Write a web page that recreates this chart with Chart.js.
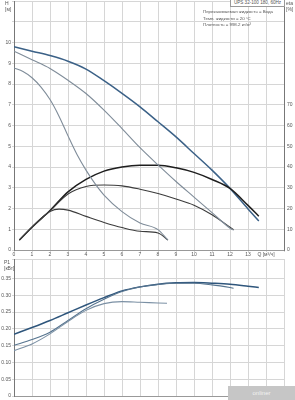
<!DOCTYPE html>
<html lang="ru">
<head>
<meta charset="UTF-8">
<title>UPS 32-100 180</title>
<style>
  html, body {
    margin: 0;
    padding: 0;
    background: #fff;
    font-family: 'Liberation Sans', Arial, sans-serif;
    color: #444;
  }
  .wrap {
    position: relative;
    width: 295px;
    height: 400px;
    overflow: hidden;
  }
  .box {
    position: absolute;
  }
  .lbl {
    position: absolute;
    font-size: 5px;
    line-height: 6px;
    color: #555;
    white-space: nowrap;
  }
  .title-box {
    position: absolute;
    left: 230px;
    top: 0;
    width: 53px;
    height: 6px;
    border: 1px solid #999;
    border-top: none;
    background: #fff;
    font-size: 4.6px;
    line-height: 6px;
    text-align: center;
    color: #555;
    white-space: nowrap;
  }
  .info {
    position: absolute;
    left: 203px;
    top: 9px;
    font-size: 4.4px;
    line-height: 6.6px;
    color: #555;
    white-space: nowrap;
  }
  .mark {
    position: absolute;
    left: 228px;
    top: 386px;
    width: 67px;
    height: 14px;
    background: #c6c6c6;
    color: #f2f2f2;
    font-size: 6px;
    line-height: 14px;
    text-align: center;
  }
</style>
<script src="https://cdn.jsdelivr.net/npm/chart.js"></script>
</head>
<body>
<div class="wrap">
  <div class="box" style="left:0;top:-3px;width:295px;height:261px;"><canvas id="topChart"></canvas></div>
  <div class="box" style="left:0;top:255px;width:295px;height:145px;"><canvas id="powerChart"></canvas></div>

  <div class="lbl" style="left:5px;top:0;">H<br>[м]</div>
  <div class="lbl" style="left:286px;top:0;">eta<br>[%]</div>
  <div class="lbl" style="left:4px;top:259px;">P1<br>[кВт]</div>
  <div class="title-box">UPS 32-100 180, 60Hz</div>
  <div class="info">Перекачиваемая жидкость = Вода<br>Темп. жидкости = 20 °C<br>Плотность = 998.2 кг/м³</div>
  <div class="mark">onliner</div>
</div>

<script>
// напор H [м]
const qH1 = [0, 1, 2, 3, 4, 5, 6, 7, 8, 9, 10, 11, 12, 13, 13.6];
const h1  = [9.8, 9.58, 9.37, 9.1, 8.72, 8.16, 7.55, 6.9, 6.18, 5.45, 4.65, 3.85, 2.97, 1.98, 1.4];
const qH2 = [0, 1, 2, 3, 4, 5, 6, 7, 8, 9, 10, 11, 12, 12.2];
const h2  = [9.58, 9.17, 8.75, 8.18, 7.54, 6.74, 5.85, 4.93, 4.1, 3.3, 2.55, 1.8, 1.05, 0.95];
const qH3 = [0, 0.5, 1, 1.5, 2, 2.5, 3, 3.5, 4, 4.5, 5, 6, 7, 8, 8.55];
const h3  = [8.77, 8.6, 8.3, 7.85, 7.25, 6.45, 5.5, 4.6, 3.85, 3.2, 2.65, 1.85, 1.3, 0.98, 0.48];

// КПД eta [%]
const qE1 = [0.3, 1, 2, 3, 4, 5, 6, 7, 8, 9, 10, 11, 12, 13, 13.6];
const eta1 = [4.8, 11, 19, 28, 34, 38, 40, 40.8, 40.8, 39.6, 37.4, 34, 29.7, 21.5, 16.3];
const qE2 = [0.3, 1, 2, 3, 4, 5, 6, 7, 8, 9, 10, 11, 12, 12.2];
const eta2 = [4.8, 11, 18.9, 27, 30.6, 31.3, 30.9, 29.3, 27.2, 24.6, 21.6, 17, 11, 9.8];
const qE3 = [0.3, 1, 1.5, 2, 2.5, 3, 4, 5, 6, 7, 8, 8.55];
const eta3 = [4.8, 11, 15.2, 18.6, 19.7, 19.2, 16.2, 13.3, 10.8, 9, 8.2, 4.8];

// мощность P1 [кВт]
const qP1 = [0, 1, 2, 3, 4, 5, 6, 7, 8, 9, 10, 11, 12, 13, 13.6];
const p1  = [0.184, 0.204, 0.225, 0.248, 0.271, 0.293, 0.313, 0.325, 0.333, 0.337, 0.338, 0.336, 0.333, 0.327, 0.323];
const qP2 = [0, 1, 2, 3, 4, 5, 6, 7, 8, 9, 10, 11, 12, 12.2];
const p2  = [0.151, 0.168, 0.19, 0.225, 0.26, 0.288, 0.311, 0.325, 0.332, 0.336, 0.336, 0.331, 0.323, 0.321];
const qP3 = [0, 1, 2, 3, 4, 5, 6, 7, 8, 8.5];
const p3  = [0.135, 0.155, 0.185, 0.222, 0.255, 0.275, 0.281, 0.279, 0.277, 0.276];

const qTickLabel = 'Q [м³/ч]';

function pts(xs, ys) {
  return xs.map((x, i) => ({ x: x, y: ys[i] }));
}

function curve(xs, ys, color, width, axis) {
  return {
    data: pts(xs, ys),
    borderColor: color,
    borderWidth: width,
    pointRadius: 0,
    fill: false,
    cubicInterpolationMode: 'monotone',
    yAxisID: axis || 'y'
  };
}

const tickFont = { family: "'Liberation Sans', Arial, sans-serif", size: 5 };
const gridColor = '#d6d6d6';

new Chart(document.getElementById('topChart'), {
  type: 'line',
  data: {
    datasets: [
      curve(qH2, h2, '#7f8c99', 1.1),
      curve(qH3, h3, '#7f8c99', 1.1),
      curve(qE3, eta3, '#3c3c3c', 1.1, 'y2'),
      curve(qE2, eta2, '#3c3c3c', 1.1, 'y2'),
      curve(qE1, eta1, '#1e1e1e', 1.5, 'y2'),
      curve(qH1, h1, '#3b6187', 1.5)
    ]
  },
  options: {
    responsive: true,
    maintainAspectRatio: false,
    animation: false,
    events: [],
    layout: { padding: 0 },
    plugins: { legend: { display: false }, tooltip: { enabled: false } },
    scales: {
      x: {
        type: 'linear',
        min: 0,
        max: 15,
        afterFit: (s) => { s.height = 8; },
        grid: { color: gridColor, tickLength: 2 },
        border: { color: '#999' },
        ticks: {
          stepSize: 1,
          autoSkip: false,
          maxRotation: 0,
          padding: 0,
          font: tickFont,
          color: '#555',
          callback: (v) => v === 14 ? qTickLabel : (v <= 13 ? v : '')
        }
      },
      y: {
        min: 0,
        max: 12,
        afterFit: (s) => { s.width = 14; },
        grid: { color: gridColor, tickLength: 2 },
        border: { color: '#777' },
        ticks: {
          stepSize: 1,
          autoSkip: false,
          padding: 1,
          font: tickFont,
          color: '#555',
          callback: (v) => v <= 10 ? v : ''
        }
      },
      y2: {
        position: 'right',
        min: 0,
        max: 120,
        afterFit: (s) => { s.width = 11; },
        grid: { display: false, drawOnChartArea: false, tickLength: 2 },
        border: { color: '#777' },
        ticks: {
          stepSize: 10,
          autoSkip: false,
          padding: 1,
          font: tickFont,
          color: '#555',
          callback: (v) => v <= 70 ? v : ''
        }
      }
    }
  }
});

new Chart(document.getElementById('powerChart'), {
  type: 'line',
  data: {
    datasets: [
      curve(qP3, p3, '#7b90a4', 1.1),
      curve(qP2, p2, '#56748f', 1.1),
      curve(qP1, p1, '#2f567c', 1.5)
    ]
  },
  options: {
    responsive: true,
    maintainAspectRatio: false,
    animation: false,
    events: [],
    layout: { padding: { right: 11 } },
    plugins: { legend: { display: false }, tooltip: { enabled: false } },
    scales: {
      x: {
        type: 'linear',
        min: 0,
        max: 15,
        afterFit: (s) => { s.height = 4; },
        grid: { color: gridColor, tickLength: 0 },
        border: { color: '#999' },
        ticks: { stepSize: 1, display: false }
      },
      y: {
        min: 0,
        max: 0.408,
        afterFit: (s) => { s.width = 14; },
        grid: { color: gridColor, tickLength: 2 },
        border: { color: '#777' },
        ticks: {
          stepSize: 0.05,
          autoSkip: false,
          padding: 1,
          font: tickFont,
          color: '#555',
          callback: (v) => {
            if (v === 0) return '0';
            if (v > 0.37) return '';
            return v.toFixed(2);
          }
        }
      }
    }
  }
});
</script>
</body>
</html>
